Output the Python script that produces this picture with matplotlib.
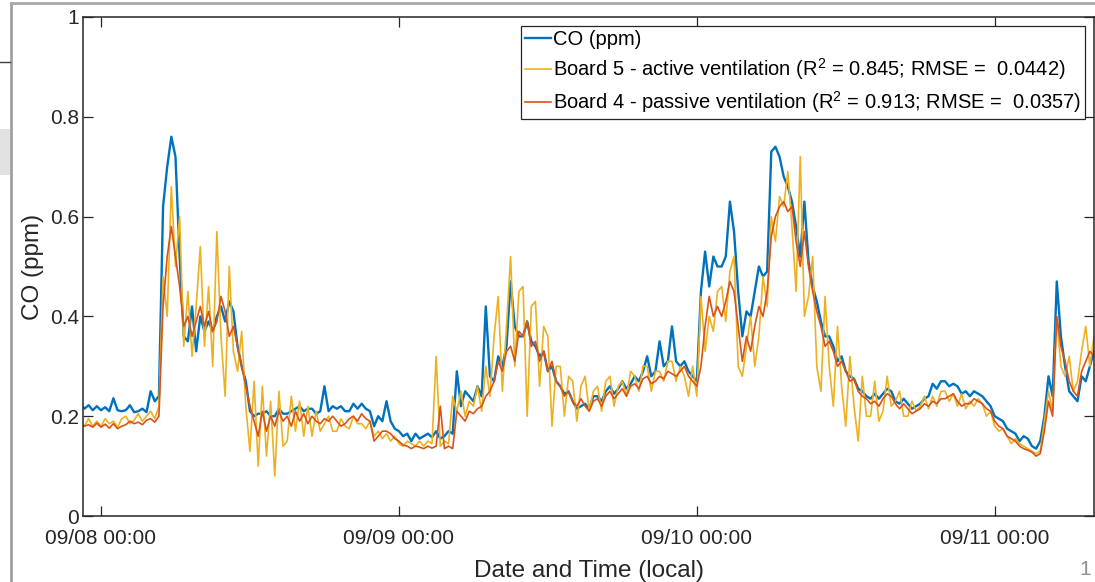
import numpy as np
import pandas as pd
import matplotlib
matplotlib.use('Agg')
from matplotlib import pyplot as plt
import matplotlib.dates as mdates
from matplotlib.lines import Line2D
from matplotlib.patches import Rectangle

plt.rcParams['font.family'] = ['Liberation Sans', 'DejaVu Sans']
plt.rcParams['mathtext.fontset'] = 'custom'
plt.rcParams['mathtext.rm'] = 'Liberation Sans'
plt.rcParams['mathtext.it'] = 'Liberation Sans'

# 20 minute readings, 09/07 22:20 -> 09/11 08:00
times = pd.date_range('2019-09-07 22:20', periods=246, freq='20min')

# reference CO (ppm), one row per hour
co_ref = [0.225, 0.215,
          0.222, 0.212, 0.22,
          0.212, 0.218, 0.21, 0.236, 0.212, 0.21, 0.212, 0.222, 0.208,
          0.21, 0.215, 0.208, 0.25, 0.23, 0.24,
          0.62, 0.70, 0.76, 0.72, 0.52, 0.36, 0.35, 0.42, 0.33,
          0.40, 0.37, 0.39, 0.37, 0.40, 0.42, 0.39, 0.43, 0.41,
          0.34, 0.30, 0.27, 0.21, 0.20, 0.205, 0.205, 0.21, 0.20,
          0.20, 0.215, 0.205, 0.205, 0.21, 0.215, 0.22, 0.21, 0.215,
          0.215, 0.205, 0.21, 0.26, 0.21, 0.22, 0.215, 0.22, 0.21,
          0.21, 0.225, 0.215, 0.225, 0.215, 0.21, 0.18, 0.20, 0.19,
          0.23, 0.19, 0.175, 0.17, 0.16, 0.165, 0.15, 0.165, 0.155,
          0.16, 0.165, 0.158, 0.17, 0.155, 0.16, 0.17, 0.165, 0.29,
          0.22, 0.25, 0.24, 0.23, 0.26, 0.24, 0.42, 0.28, 0.27,
          0.32, 0.30, 0.34, 0.47, 0.38, 0.36, 0.36, 0.39, 0.35,
          0.34, 0.32, 0.33, 0.29, 0.30, 0.27, 0.26, 0.245, 0.25,
          0.23, 0.215, 0.22, 0.225, 0.215, 0.24, 0.24, 0.23, 0.25,
          0.26, 0.245, 0.255, 0.27, 0.255, 0.265, 0.28, 0.27, 0.29,
          0.32, 0.28, 0.29, 0.35, 0.30, 0.31, 0.38, 0.31, 0.30,
          0.31, 0.29, 0.28, 0.27, 0.45, 0.53, 0.46, 0.52, 0.50,
          0.50, 0.52, 0.63, 0.57, 0.45, 0.36, 0.41, 0.40, 0.45,
          0.50, 0.48, 0.49, 0.73, 0.74, 0.72, 0.68, 0.66, 0.63,
          0.58, 0.52, 0.63, 0.51, 0.46, 0.43, 0.39, 0.36, 0.36,
          0.34, 0.31, 0.32, 0.29, 0.28, 0.275, 0.255, 0.25, 0.24,
          0.235, 0.245, 0.235, 0.245, 0.255, 0.25, 0.23, 0.225, 0.235,
          0.225, 0.215, 0.22, 0.225, 0.235, 0.24, 0.265, 0.255, 0.27,
          0.27, 0.26, 0.265, 0.26, 0.245, 0.25, 0.24, 0.25, 0.245,
          0.24, 0.23, 0.22, 0.20, 0.195, 0.19, 0.175, 0.17, 0.165,
          0.15, 0.16, 0.155, 0.14, 0.135, 0.15, 0.20, 0.28, 0.24,
          0.47, 0.36, 0.30, 0.25, 0.24, 0.23, 0.28, 0.27, 0.30,
          0.33]

# Board 5 - active ventilation
board5 = [0.19, 0.18,
          0.195, 0.18, 0.19,
          0.18, 0.195, 0.185, 0.19, 0.178, 0.195, 0.20, 0.185, 0.192,
          0.205, 0.19, 0.20, 0.21, 0.195, 0.22,
          0.48, 0.40, 0.66, 0.50, 0.60, 0.34, 0.45, 0.32, 0.42,
          0.54, 0.34, 0.46, 0.30, 0.57, 0.36, 0.24, 0.50, 0.33,
          0.29, 0.37, 0.22, 0.13, 0.27, 0.10, 0.26, 0.12, 0.23,
          0.08, 0.25, 0.14, 0.15, 0.24, 0.17, 0.23, 0.16, 0.22,
          0.16, 0.21, 0.17, 0.185, 0.20, 0.17, 0.17, 0.195, 0.18,
          0.175, 0.20, 0.185, 0.185, 0.175, 0.19, 0.16, 0.17, 0.155,
          0.165, 0.15, 0.16, 0.145, 0.14, 0.15, 0.145, 0.14, 0.15,
          0.14, 0.15, 0.145, 0.32, 0.14, 0.15, 0.145, 0.24, 0.21,
          0.25, 0.20, 0.23, 0.22, 0.26, 0.21, 0.30, 0.24, 0.36,
          0.44, 0.25, 0.38, 0.52, 0.30, 0.45, 0.46, 0.20, 0.42,
          0.43, 0.26, 0.38, 0.36, 0.18, 0.30, 0.30, 0.20, 0.28,
          0.27, 0.19, 0.26, 0.28, 0.21, 0.25, 0.26, 0.21, 0.27,
          0.28, 0.22, 0.26, 0.27, 0.24, 0.29, 0.28, 0.25, 0.30,
          0.30, 0.25, 0.29, 0.29, 0.27, 0.31, 0.31, 0.27, 0.30,
          0.28, 0.24, 0.30, 0.24, 0.44, 0.33, 0.40, 0.37, 0.45,
          0.46, 0.39, 0.49, 0.52, 0.30, 0.28, 0.34, 0.40, 0.30,
          0.36, 0.48, 0.42, 0.60, 0.55, 0.64, 0.62, 0.69, 0.58,
          0.45, 0.72, 0.40, 0.44, 0.52, 0.30, 0.25, 0.44, 0.30,
          0.22, 0.38, 0.26, 0.18, 0.32, 0.22, 0.15, 0.28, 0.20,
          0.20, 0.27, 0.19, 0.21, 0.28, 0.22, 0.23, 0.25, 0.20,
          0.20, 0.23, 0.21, 0.22, 0.24, 0.215, 0.24, 0.22, 0.25,
          0.25, 0.23, 0.245, 0.22, 0.245, 0.215, 0.23, 0.22, 0.235,
          0.225, 0.20, 0.21, 0.18, 0.17, 0.175, 0.16, 0.145, 0.155,
          0.145, 0.14, 0.135, 0.13, 0.125, 0.13, 0.19, 0.25, 0.21,
          0.40, 0.30, 0.28, 0.32, 0.25, 0.27, 0.33, 0.38, 0.30,
          0.36]

# Board 4 - passive ventilation
board4 = [0.185, 0.18,
          0.183, 0.178, 0.186,
          0.178, 0.184, 0.176, 0.185, 0.175, 0.18, 0.183, 0.19, 0.185,
          0.188, 0.183, 0.192, 0.195, 0.188, 0.20,
          0.42, 0.52, 0.58, 0.52, 0.46, 0.38, 0.40, 0.36, 0.39,
          0.42, 0.38, 0.41, 0.37, 0.39, 0.44, 0.41, 0.36, 0.38,
          0.34, 0.30, 0.26, 0.22, 0.19, 0.16, 0.21, 0.17, 0.20,
          0.18, 0.21, 0.19, 0.20, 0.18, 0.21, 0.19, 0.205, 0.185,
          0.20, 0.19, 0.185, 0.195, 0.19, 0.20, 0.19, 0.18, 0.185,
          0.195, 0.20, 0.19, 0.205, 0.195, 0.19, 0.15, 0.16, 0.17,
          0.17, 0.165, 0.155, 0.15, 0.142, 0.14, 0.135, 0.14, 0.138,
          0.135, 0.14, 0.136, 0.14, 0.22, 0.135, 0.14, 0.135, 0.21,
          0.20, 0.19, 0.21, 0.205, 0.215, 0.22, 0.24, 0.25, 0.27,
          0.31, 0.29, 0.33, 0.34, 0.31, 0.37, 0.36, 0.39, 0.34,
          0.35, 0.31, 0.33, 0.29, 0.31, 0.27, 0.26, 0.24, 0.25,
          0.23, 0.22, 0.235, 0.22, 0.21, 0.23, 0.235, 0.22, 0.24,
          0.25, 0.235, 0.245, 0.255, 0.24, 0.26, 0.265, 0.255, 0.275,
          0.28, 0.265, 0.27, 0.28, 0.275, 0.29, 0.285, 0.28, 0.29,
          0.30, 0.28, 0.27, 0.26, 0.30, 0.38, 0.44, 0.40, 0.42,
          0.40, 0.43, 0.47, 0.45, 0.38, 0.31, 0.36, 0.33, 0.38,
          0.42, 0.40, 0.45, 0.56, 0.60, 0.62, 0.63, 0.61, 0.62,
          0.55, 0.50, 0.57, 0.50, 0.45, 0.41, 0.38, 0.34, 0.35,
          0.33, 0.30, 0.31, 0.29, 0.27, 0.275, 0.25, 0.24, 0.235,
          0.225, 0.23, 0.22, 0.235, 0.245, 0.24, 0.225, 0.215, 0.225,
          0.215, 0.205, 0.21, 0.215, 0.225, 0.22, 0.23, 0.225, 0.235,
          0.235, 0.24, 0.245, 0.23, 0.22, 0.225, 0.225, 0.235, 0.23,
          0.225, 0.215, 0.21, 0.19, 0.18, 0.175, 0.16, 0.155, 0.15,
          0.14, 0.135, 0.132, 0.128, 0.12, 0.125, 0.17, 0.23, 0.20,
          0.40, 0.34, 0.31, 0.27, 0.25, 0.24, 0.29, 0.31, 0.33,
          0.32]

labels = ['CO (ppm)',
          'Board 5 - active ventilation (R$^2$ = 0.845; RMSE =  0.0442)',
          'Board 4 - passive ventilation (R$^2$ = 0.913; RMSE =  0.0357)']
colors = ['#0072BD', '#EDB120', '#D95319']
day_ticks = pd.date_range('2019-09-08', periods=4, freq='D')

fig = plt.figure(figsize=(10.95, 5.82), dpi=100)
ax = fig.add_axes([0.0758, 0.1134, 0.9233, 0.8574])

# series in matlab order: reference, board 5, board 4 on top
ax.plot(times, co_ref, color=colors[0], lw=1.7, label=labels[0])
ax.plot(times, board5, color=colors[1], lw=1.2, label=labels[1])
ax.plot(times, board4, color=colors[2], lw=1.2, label=labels[2])

ax.set_xlim(pd.Timestamp('2019-09-07 22:33'), times[-1])
ax.set_ylim(0, 1)
ax.set_yticks([0, 0.2, 0.4, 0.6, 0.8, 1])
ax.set_yticklabels(['0', '0.2', '0.4', '0.6', '0.8', '1'])
ax.set_xticks(day_ticks)
ax.xaxis.set_major_formatter(mdates.DateFormatter('%m/%d %H:%M'))

# matlab style box with inward ticks on all sides
ax.tick_params(direction='in', length=7.5, width=0.9, top=True, right=True,
               labelsize=15, colors='#262626')
ax.tick_params(axis='x', pad=9)
ax.tick_params(axis='y', pad=3)
for s in ax.spines.values():
    s.set_color('#262626')
    s.set_linewidth(1.1)

ax.set_xlabel('Date and Time (local)', fontsize=17.5, color='#262626', labelpad=9)
ax.set_ylabel('CO (ppm)', fontsize=17.5, color='#262626', labelpad=4)

leg = ax.legend(loc='upper right', fontsize=14.5, frameon=True, fancybox=False,
                framealpha=1, edgecolor='#262626', handlelength=1.3,
                handletextpad=0.1, borderpad=0.2, labelspacing=0.35,
                borderaxespad=0.45)
leg.get_frame().set_linewidth(0.9)

# screenshot window frame, bits of the window behind, page number
fig.add_artist(Line2D([0.01, 0.01], [0, 0.995], color='#a0a0a0', lw=2,
                      transform=fig.transFigure))
fig.add_artist(Line2D([0.01, 1.0], [0.995, 0.995], color='#a8a8a8', lw=2,
                      transform=fig.transFigure))
fig.add_artist(Line2D([0.0, 0.009], [0.893, 0.893], color='#404040', lw=1,
                      transform=fig.transFigure))
fig.add_artist(Rectangle((0.0, 0.70), 0.009, 0.078, color='#e2e2e2',
                         transform=fig.transFigure, lw=0))
fig.text(0.996, 0.012, '1', fontsize=15, color='#909090', ha='right')

fig.savefig('out.png', dpi=100)
